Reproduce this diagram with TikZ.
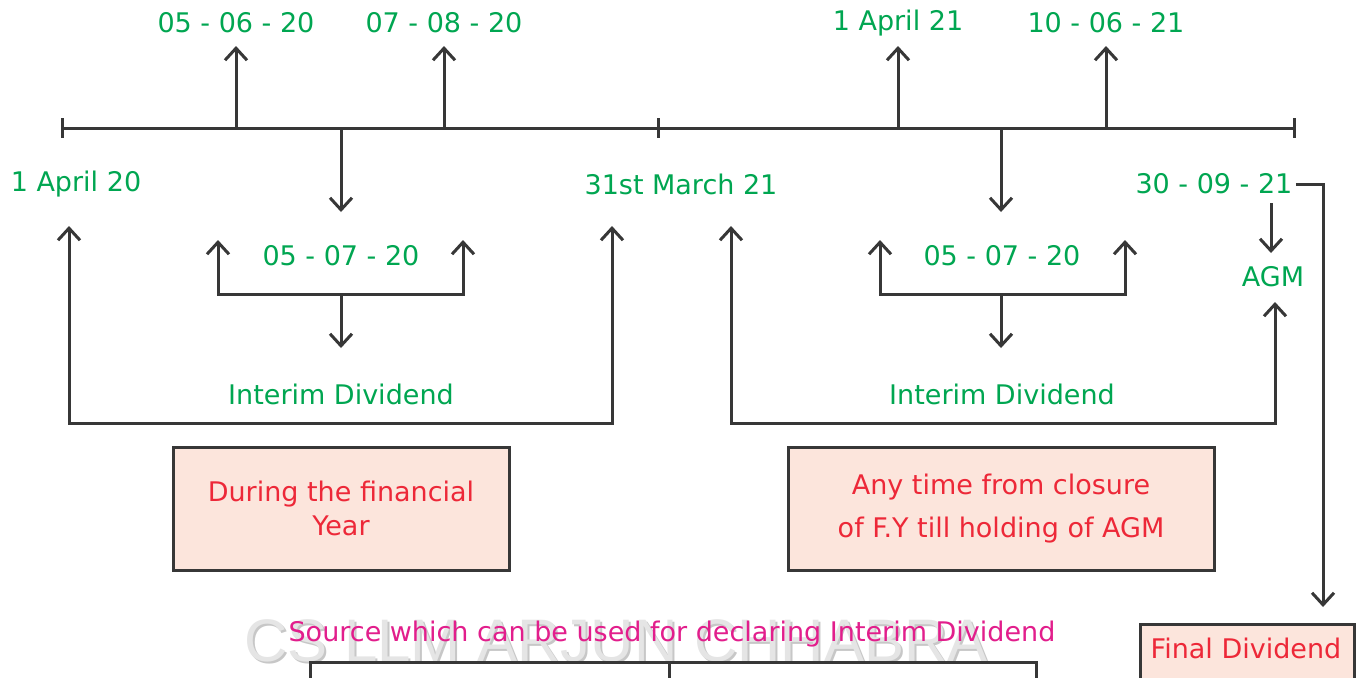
\documentclass[tikz,border=0pt]{standalone}
\usepackage{fontspec}
\setmainfont{DejaVu Sans}
\newfontfamily\markfont{Liberation Sans}
\usetikzlibrary{arrows.meta}
\definecolor{dategreen}{RGB}{0,166,81}
\definecolor{notered}{RGB}{237,40,56}
\definecolor{srcpink}{RGB}{226,30,140}
\definecolor{linegray}{RGB}{55,55,55}
\definecolor{boxfill}{RGB}{252,229,220}
\begin{document}
\begin{tikzpicture}[x=0.5pt,y=-0.5pt,
  lbl/.style={text=dategreen, font=\fontsize{13.5}{16}\selectfont, inner sep=0pt},
  ln/.style={draw=linegray, line width=1.5pt},
  arr/.style={ln, -{Straight Barb[length=6pt,width=11pt]}},
  darr/.style={ln, {Straight Barb[length=6pt,width=11pt]}-{Straight Barb[length=6pt,width=11pt]}},
  notebox/.style={draw=linegray, line width=1.5pt, fill=boxfill, text=notered,
    font=\fontsize{13.5}{17}\selectfont, align=center, inner sep=0pt}]
\clip (0,0) rectangle (1360,677);
\fill[white] (0,0) rectangle (1360,677);

% watermark behind everything
\node[text=black!22, font=\markfont\fontsize{30}{30}\selectfont, inner sep=0pt] (wmshadow) at (618,643) {CS LLM ARJUN CHHABRA};
\node[text=black!10, font=\markfont\fontsize{30}{30}\selectfont, inner sep=0pt] (wm) at (616,641) {CS LLM ARJUN CHHABRA};

% time line with its ticks
\coordinate (t0) at (62,128);
\coordinate (tm) at (658,128);
\coordinate (t1) at (1294,128);
\draw[ln] (t0) -- (t1);
\foreach \c in {t0,tm,t1} \draw[ln] ([yshift=5pt]\c) -- ([yshift=-5pt]\c);

% dates above the line
\node[lbl] (u1) at (236,23) {05 - 06 - 20};
\node[lbl] (u2) at (444,23) {07 - 08 - 20};
\node[lbl] (u3) at (898,23) {1 April 21};
\node[lbl] (u4) at (1106,23) {10 - 06 - 21};
\foreach \n/\x in {u1/236,u2/444,u3/898,u4/1106}
  \draw[arr] (\x,128) -- (\x,46);

% dates below the line
\node[lbl] (s0) at (76,184) {1 April 20};
\node[lbl] (se) at (681,184) {31st March 21};
\node[lbl] (agmdate) at (1214,184) {30 - 09 - 21};
\node[lbl] (agm) at (1273,277) {AGM};

% interim dividend dates
\node[lbl] (m1) at (341,256) {05 - 07 - 20};
\node[lbl] (m2) at (1002,256) {05 - 07 - 20};
\draw[arr] (341,128) -- (341,212);
\draw[arr] (1001,128) -- (1001,212);
\draw[darr] (218,240) |- (341,294) -| (463,240);
\draw[darr] (880,240) |- (1002,294) -| (1125,240);
\draw[arr] (341,294) -- (341,348);
\draw[arr] (1001,294) -- (1001,348);

\node[lbl] (id1) at (341,394) {Interim Dividend};
\node[lbl] (id2) at (1002,394) {Interim Dividend};

% span brackets
\draw[darr] (69,226) |- (340,423) -| (612,226);
\draw[darr] (731,226) |- (1000,423) -| (1275,302);

% AGM and final dividend
\draw[arr] (1271,203) -- (1271,253);
\draw[arr] (agmdate.east) ++(3,0) -| (1323,607);

% note boxes
\node[notebox, minimum width=168pt, minimum height=61.5pt] (b1) at (341,508.5)
  {During the financial\\[0pt]Year};
\node[notebox, minimum width=213pt, minimum height=61.5pt] (b2) at (1001,508.5)
  {Any time from closure\\[4.5pt]of F.Y till holding of AGM};
\draw[ln, fill=boxfill] (1140,624) rectangle (1354,720);
\node[text=notered, font=\fontsize{13.5}{16}\selectfont, inner sep=0pt] (fd) at (1246,648) {Final Dividend};

% sources of interim dividend
\node[text=srcpink, font=\fontsize{13.5}{16}\selectfont, inner sep=0pt] (src) at (672,634)
  {Source which can be used for declaring Interim Dividend};
\draw[ln] (310,700) |- (1036,662) -- (1036,700);
\draw[ln] (669,662) -- (669,700);
\end{tikzpicture}
\end{document}
